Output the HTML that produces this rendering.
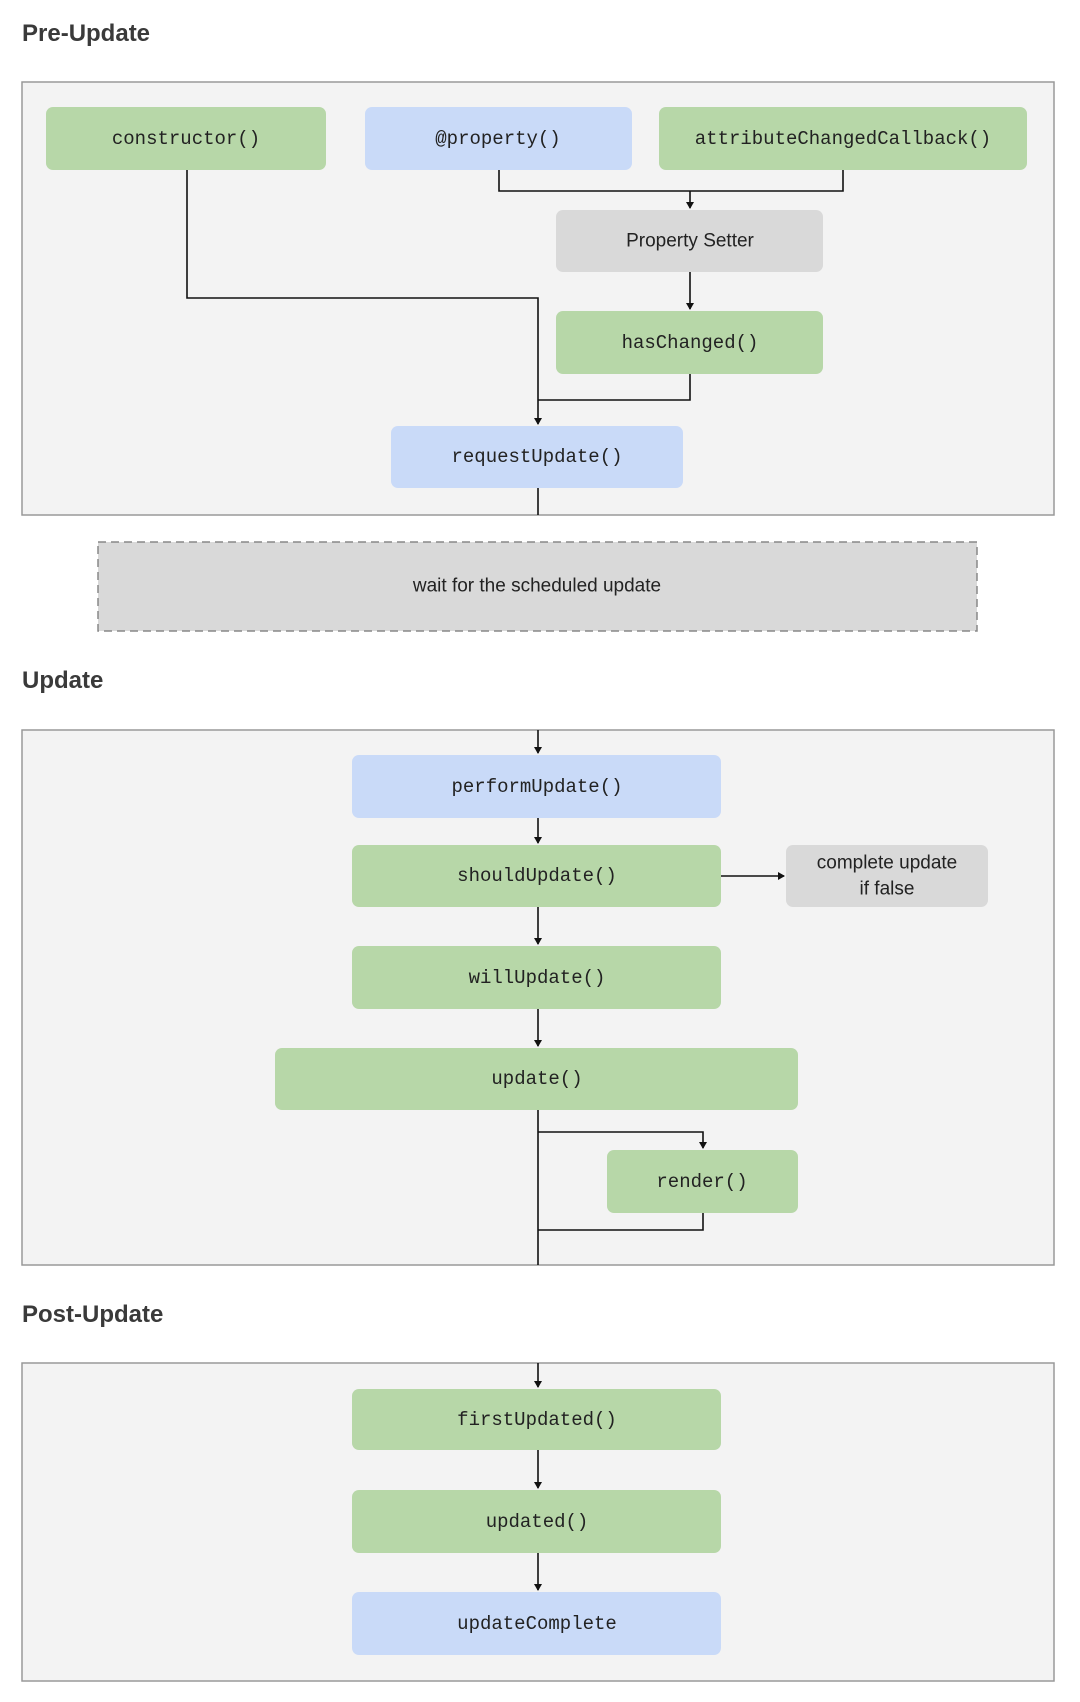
<!DOCTYPE html>
<html><head><meta charset="utf-8"><style>
html,body{margin:0;padding:0;background:#fff;}
svg{display:block}
.t{font-family:"Liberation Sans",sans-serif;font-weight:bold;font-size:24px;fill:#3a3a3a}
.m{font-family:"Liberation Mono",monospace;font-size:19px;fill:#222;text-anchor:middle;dominant-baseline:central}
.s{font-family:"Liberation Sans",sans-serif;font-size:19px;fill:#222;text-anchor:middle;dominant-baseline:central}
.g{fill:#b7d7a8}.b{fill:#c9daf8}.y{fill:#d9d9d9}
.l{stroke:#111;stroke-width:1.6;fill:none}
</style></head><body>
<svg width="1080" height="1702" viewBox="0 0 1080 1702">
<defs><marker id="a" markerWidth="8" markerHeight="8" refX="6" refY="4" orient="auto" markerUnits="userSpaceOnUse"><path d="M0,0 L7,4 L0,8 z" fill="#111"/></marker></defs>
<text class="t" x="22" y="41">Pre-Update</text>
<rect x="22" y="82" width="1032" height="433" fill="#f3f3f3" stroke="#999" stroke-width="1.5"/>
<rect class="g" x="46" y="107" width="280" height="63" rx="7"/><text class="m" x="186" y="139">constructor()</text>
<rect class="b" x="365" y="107" width="267" height="63" rx="7"/><text class="m" x="498" y="139">@property()</text>
<rect class="g" x="659" y="107" width="368" height="63" rx="7"/><text class="m" x="843" y="139">attributeChangedCallback()</text>
<path class="l" d="M499 170 V191 H843 V170"/>
<path class="l" d="M690 191 V208" marker-end="url(#a)"/>
<rect class="y" x="556" y="210" width="267" height="62" rx="7"/><text class="s" x="690" y="241">Property Setter</text>
<path class="l" d="M690 272 V309" marker-end="url(#a)"/>
<rect class="g" x="556" y="311" width="267" height="63" rx="7"/><text class="m" x="690" y="343">hasChanged()</text>
<path class="l" d="M187 170 V298 H538 V424" marker-end="url(#a)"/>
<path class="l" d="M690 374 V400 H538"/>
<rect class="b" x="391" y="426" width="292" height="62" rx="7"/><text class="m" x="537" y="457">requestUpdate()</text>
<path class="l" d="M538 488 V515"/>
<rect x="98" y="542" width="879" height="89" fill="#d9d9d9" stroke="#888" stroke-width="1.5" stroke-dasharray="8,5"/>
<text class="s" x="537" y="586">wait for the scheduled update</text>
<text class="t" x="22" y="688">Update</text>
<rect x="22" y="730" width="1032" height="535" fill="#f3f3f3" stroke="#999" stroke-width="1.5"/>
<path class="l" d="M538 730 V753" marker-end="url(#a)"/>
<rect class="b" x="352" y="755" width="369" height="63" rx="7"/><text class="m" x="537" y="787">performUpdate()</text>
<path class="l" d="M538 818 V843" marker-end="url(#a)"/>
<rect class="g" x="352" y="845" width="369" height="62" rx="7"/><text class="m" x="537" y="876">shouldUpdate()</text>
<path class="l" d="M721 876 H784" marker-end="url(#a)"/>
<rect class="y" x="786" y="845" width="202" height="62" rx="7"/>
<text class="s" x="887" y="863">complete update</text><text class="s" x="887" y="889">if false</text>
<path class="l" d="M538 907 V944" marker-end="url(#a)"/>
<rect class="g" x="352" y="946" width="369" height="63" rx="7"/><text class="m" x="537" y="978">willUpdate()</text>
<path class="l" d="M538 1009 V1046" marker-end="url(#a)"/>
<rect class="g" x="275" y="1048" width="523" height="62" rx="7"/><text class="m" x="537" y="1079">update()</text>
<path class="l" d="M538 1110 V1265"/>
<path class="l" d="M538 1132 H703 V1148" marker-end="url(#a)"/>
<rect class="g" x="607" y="1150" width="191" height="63" rx="7"/><text class="m" x="702" y="1182">render()</text>
<path class="l" d="M703 1213 V1230 H538"/>
<text class="t" x="22" y="1322">Post-Update</text>
<rect x="22" y="1363" width="1032" height="318" fill="#f3f3f3" stroke="#999" stroke-width="1.5"/>
<path class="l" d="M538 1363 V1387" marker-end="url(#a)"/>
<rect class="g" x="352" y="1389" width="369" height="61" rx="7"/><text class="m" x="537" y="1420">firstUpdated()</text>
<path class="l" d="M538 1450 V1488" marker-end="url(#a)"/>
<rect class="g" x="352" y="1490" width="369" height="63" rx="7"/><text class="m" x="537" y="1522">updated()</text>
<path class="l" d="M538 1553 V1590" marker-end="url(#a)"/>
<rect class="b" x="352" y="1592" width="369" height="63" rx="7"/><text class="m" x="537" y="1624">updateComplete</text>
</svg>
</body></html>
